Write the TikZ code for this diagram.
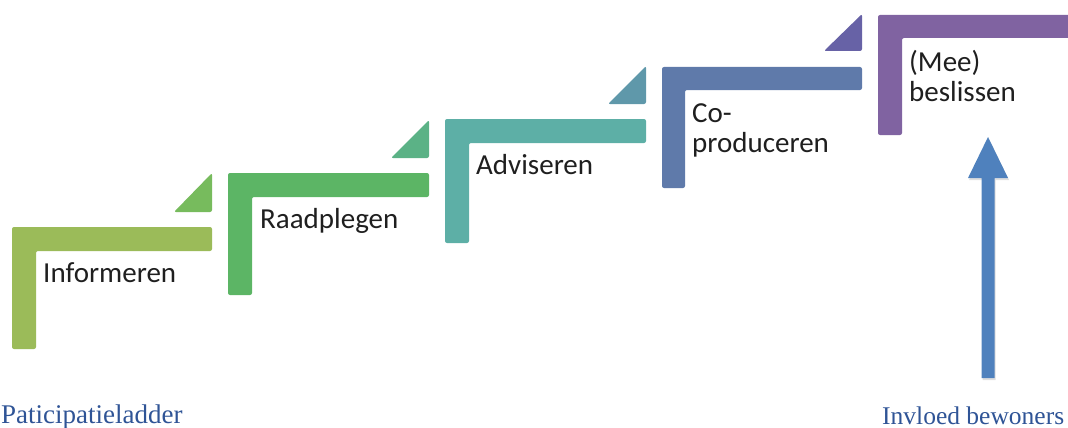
\documentclass[tikz,border=0pt]{standalone}
\usepackage{fontspec}
\setmainfont{Carlito}
\newfontfamily\capfont{Liberation Serif}
\usetikzlibrary{shadows}

\definecolor{stepA}{HTML}{9BBB59}
\definecolor{stepB}{HTML}{5CB565}
\definecolor{stepC}{HTML}{5DAFA6}
\definecolor{stepD}{HTML}{5F7AAA}
\definecolor{stepE}{HTML}{8063A1}
\definecolor{triA}{HTML}{77BB5D}
\definecolor{triB}{HTML}{5BB286}
\definecolor{triC}{HTML}{5F98AA}
\definecolor{triD}{HTML}{6762A6}
\definecolor{arrowblue}{HTML}{4F81BD}
\definecolor{capblue}{HTML}{2F5496}

\tikzset{
  bar/.style={rounded corners=2pt},
  steplabel/.style={anchor=base west,inner sep=0pt,align=left,
    font=\fontsize{29}{30}\selectfont,text=black!88},
  caption/.style={anchor=base west,inner sep=0pt,text=capblue}
}

\begin{document}
\begin{tikzpicture}[x=1pt,y=-1pt]

  \useasboundingbox (0,0) rectangle (1068,428);

  % step 1
  \fill[stepA,bar] (12,227) -- (212,227) -- (212,251) -- (36,251) -- (36,349) -- (12,349) -- cycle;
  \fill[triA,bar] (212,173) -- (212,212) -- (174,212) -- cycle;
  \node (INFO) at (43,282) [steplabel] {Informeren};

  % step 2
  \fill[stepB,bar] (228,173) -- (429,173) -- (429,197) -- (252,197) -- (252,295) -- (228,295) -- cycle;
  \fill[triB,bar] (429,120) -- (429,158) -- (391,158) -- cycle;
  \node (RAAD) at (260,228) [steplabel] {Raadplegen};

  % step 3
  \fill[stepC,bar] (445,119) -- (646,119) -- (646,143) -- (469,143) -- (469,243) -- (445,243) -- cycle;
  \fill[triC,bar] (646,66) -- (646,104) -- (608,104) -- cycle;
  \node (ADVI) at (476,174) [steplabel] {Adviseren};

  % step 4 (base = last line)
  \fill[stepD,bar] (662,67) -- (862,67) -- (862,90) -- (685,90) -- (685,188) -- (662,188) -- cycle;
  \fill[triD,bar] (862,14) -- (862,51) -- (824,51) -- cycle;
  \node (COPR) at (692,152) [steplabel] {Co-\\produceren};

  % step 5
  \fill[stepE,bar] (878,15) -- (1080,15) -- (1080,38) -- (902,38) -- (902,135) -- (878,135) -- cycle;
  \node (BESL) at (909,101) [steplabel] {(Mee)\\beslissen};

  % arrow
  \fill[arrowblue,drop shadow={opacity=0.25,shadow xshift=1pt,shadow yshift=-2pt}]
    (981.5,378) -- (981.5,178) -- (968,178) -- (988,137) -- (1008,178) -- (994.5,178) -- (994.5,378) -- cycle;

  \node (LADDER) at (1,423) [caption,font=\capfont\fontsize{27}{29}\selectfont] {Paticipatieladder};
  \node (INVL) at (882,424) [caption,font=\capfont\fontsize{25.5}{28}\selectfont] {Invloed bewoners};

\end{tikzpicture}
\end{document}
